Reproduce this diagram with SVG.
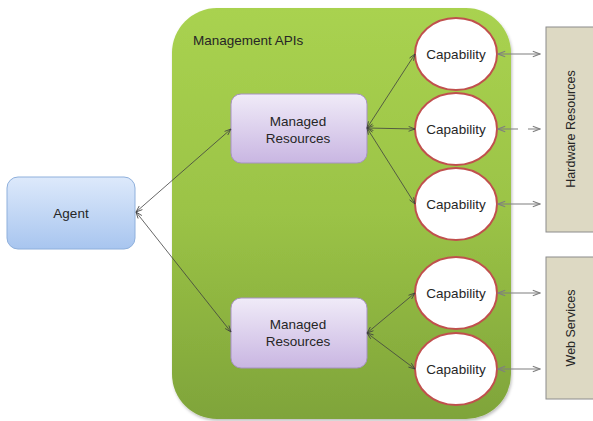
<svg xmlns="http://www.w3.org/2000/svg" width="593" height="421" viewBox="0 0 593 421">
<defs>
<linearGradient id="gGreen" x1="0" y1="0" x2="0" y2="1">
<stop offset="0" stop-color="#a9d250"/>
<stop offset="0.5" stop-color="#9bc346"/>
<stop offset="1" stop-color="#7fa43a"/>
</linearGradient>
<linearGradient id="gBlue" x1="0" y1="0" x2="0" y2="1">
<stop offset="0" stop-color="#dde9fb"/>
<stop offset="1" stop-color="#a8c5ef"/>
</linearGradient>
<linearGradient id="gLav" x1="0" y1="0" x2="0" y2="1">
<stop offset="0" stop-color="#f0ebf8"/>
<stop offset="1" stop-color="#c9b6e2"/>
</linearGradient>
<marker id="ahd" viewBox="0 0 10 8" refX="9" refY="4" markerWidth="8" markerHeight="6.4" markerUnits="userSpaceOnUse" orient="auto-start-reverse">
<path d="M1,1 L9,4 L1,7" fill="none" stroke="#404040" stroke-width="1"/>
</marker>
<marker id="ahg" viewBox="0 0 10 8" refX="9" refY="4" markerWidth="9" markerHeight="7.2" markerUnits="userSpaceOnUse" orient="auto-start-reverse">
<path d="M1,1 L9,4 L1,7" fill="none" stroke="#7f7f7f" stroke-width="1.2"/>
</marker>
<filter id="sh" x="-10%" y="-10%" width="120%" height="120%">
<feDropShadow dx="1" dy="2" stdDeviation="1.5" flood-color="#000" flood-opacity="0.25"/>
</filter>
</defs>
<style>
text{font-family:"Liberation Sans",Arial,sans-serif;font-size:13.5px;fill:#262626;}
.c{text-anchor:middle;}
.v{font-size:12.5px;}
.cap{fill:#fff;stroke:#c0504d;stroke-width:2;}
.ext{fill:#ddd9c3;stroke:#8c8c8c;stroke-width:1;}
.in{fill:none;stroke:#404040;stroke-width:0.8;marker-start:url(#ahd);marker-end:url(#ahd);}
.out{fill:none;stroke:#7f7f7f;stroke-width:1.2;marker-start:url(#ahg);marker-end:url(#ahg);}
</style>
<g id="container">
<rect x="172" y="8" width="339" height="411" rx="45" ry="45" fill="url(#gGreen)" filter="url(#sh)"/>
<text x="193" y="45">Management APIs</text>
</g>
<g id="hardware">
<rect class="ext" x="546" y="27" width="60" height="205"/>
<text class="c v" transform="translate(575,129) rotate(-90)">Hardware Resources</text>
</g>
<g id="web">
<rect class="ext" x="546" y="257" width="60" height="142"/>
<text class="c v" transform="translate(575,328) rotate(-90)">Web Services</text>
</g>
<g id="agent">
<rect x="7" y="177" width="128" height="72" rx="11" ry="11" fill="url(#gBlue)" stroke="#8fb0dc" stroke-width="1"/>
<text class="c" x="71" y="218">Agent</text>
</g>
<g id="mr1">
<rect x="231" y="94" width="136" height="69" rx="10" ry="10" fill="url(#gLav)" stroke="#a792c4" stroke-width="1"/>
<text class="c" x="298" y="126">Managed</text>
<text class="c" x="298" y="143">Resources</text>
</g>
<g id="mr2">
<rect x="231" y="298" width="136" height="70" rx="10" ry="10" fill="url(#gLav)" stroke="#a792c4" stroke-width="1"/>
<text class="c" x="298" y="329">Managed</text>
<text class="c" x="298" y="346">Resources</text>
</g>
<g id="cap1"><ellipse class="cap" cx="456" cy="54" rx="41" ry="36"/><text class="c" x="456" y="59">Capability</text></g>
<g id="cap2"><ellipse class="cap" cx="456" cy="129" rx="41" ry="36"/><text class="c" x="456" y="134">Capability</text></g>
<g id="cap3"><ellipse class="cap" cx="456" cy="204" rx="41" ry="36"/><text class="c" x="456" y="209">Capability</text></g>
<g id="cap4"><ellipse class="cap" cx="456" cy="293" rx="41" ry="36"/><text class="c" x="456" y="298">Capability</text></g>
<g id="cap5"><ellipse class="cap" cx="456" cy="369" rx="41" ry="36"/><text class="c" x="456" y="374">Capability</text></g>
<g id="connectors">
<line class="in" x1="136" y1="212" x2="231" y2="129"/>
<line class="in" x1="136" y1="212" x2="231" y2="332"/>
<line class="in" x1="367" y1="128" x2="415" y2="54"/>
<line class="in" x1="367" y1="128" x2="415" y2="129"/>
<line class="in" x1="367" y1="128" x2="415" y2="204"/>
<line class="in" x1="367" y1="333" x2="415" y2="293"/>
<line class="in" x1="367" y1="333" x2="415" y2="369"/>
<line class="out" x1="498" y1="54" x2="540" y2="54"/>
<line class="out" x1="498" y1="129" x2="540" y2="129" stroke-dasharray="20 10 12"/>
<line class="out" x1="498" y1="204" x2="540" y2="204"/>
<line class="out" x1="498" y1="293" x2="540" y2="293"/>
<line class="out" x1="498" y1="369" x2="540" y2="369"/>
</g>
</svg>
